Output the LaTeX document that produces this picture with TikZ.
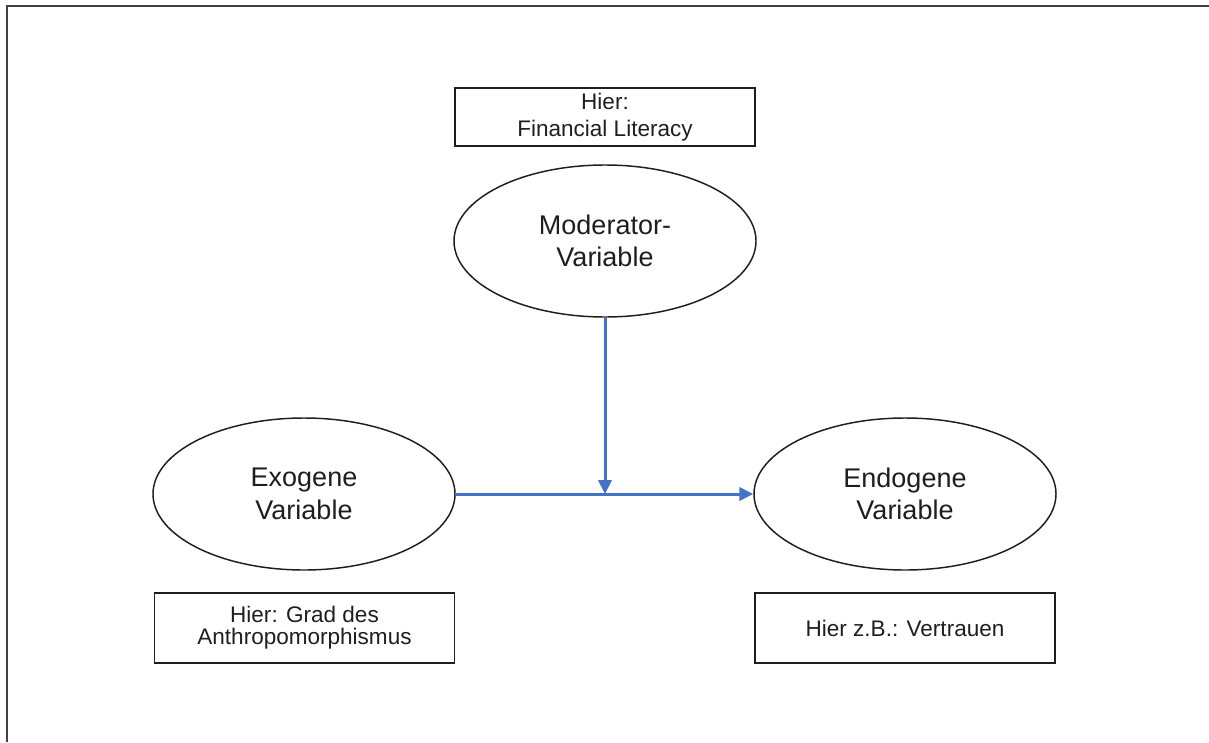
\documentclass[tikz,border=0pt]{standalone}
\usepackage{fontspec}
\setmainfont{Liberation Sans}
\usetikzlibrary{shapes.geometric,arrows.meta}
\definecolor{linkblue}{HTML}{4472C4}
\definecolor{ink}{HTML}{1E1E1E}
\begin{document}
\begin{tikzpicture}[x=0.75pt,y=-0.75pt,
  varnode/.style={draw=ink,line width=1.1pt,ellipse,inner sep=0pt,
    minimum width=226.5pt,minimum height=114pt,align=center,text=ink,
    font=\fontsize{20.25}{24.4}\selectfont},
  notebox/.style={draw=ink,line width=1.1pt,rectangle,inner sep=0pt,
    minimum width=225pt,align=center,text=ink},
  link/.style={draw=linkblue,line width=2.25pt,
    -{Triangle[length=10.5pt,width=10pt]}}]
\useasboundingbox (0,0) rectangle (1209,742);

% frame
\draw[line width=1.5pt,draw=ink!85] (7,742) -- (7,6) -- (1209,6);

% notes
\node[notebox,minimum height=43.5pt,font=\fontsize{16.9}{20.25}\selectfont]
  (modnote) at (605,117) {Hier:\\Financial Literacy};
\node[notebox,minimum height=52.5pt,font=\fontsize{16.9}{16.5}\selectfont]
  (exonote) at (304.5,628) {Hier: Grad des\\Anthropomorphismus};
\node[notebox,minimum height=52.5pt,font=\fontsize{16.9}{20}\selectfont]
  (endonote) at (905,628) {Hier z.B.: Vertrauen};

% variables
\node[varnode] (mod) at (605,241) {Moderator-\\Variable};
\node[varnode] (exo) at (304,494) {Exogene\\Variable};
\node[varnode] (endo) at (905,494) {Endogene\\Variable};

% effects
\coordinate (join) at (605,494);
\draw[link] (exo.east) -- (endo.west);
\draw[link] (mod.south) -- (join);
\end{tikzpicture}
\end{document}
